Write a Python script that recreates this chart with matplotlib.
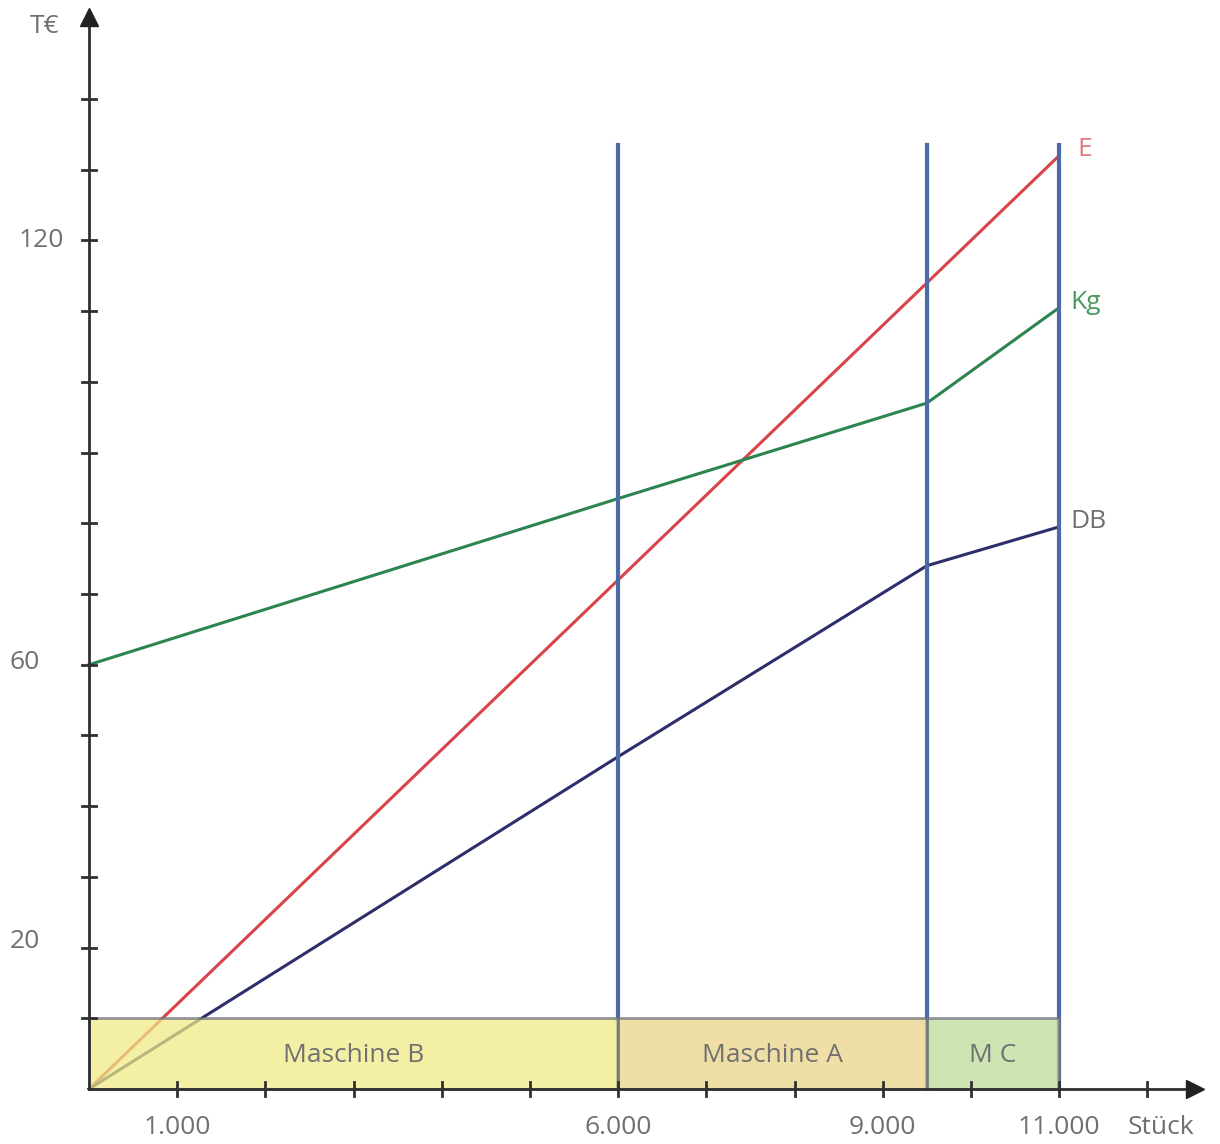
import matplotlib.pyplot as plt
from matplotlib.patches import Rectangle

plt.rcParams['font.family'] = ['Open Sans', 'DejaVu Sans']

# Stückzahlen an den Knickpunkten
menge = [0, 6000, 9500, 11000]
erloes = [0, 72, 114, 132]          # E
kosten = [60, 83.5, 97, 110.5]      # Kg
deckung = [0, 47, 74, 79.5]         # DB

# Maschinenbereiche
grenzen = [0, 6000, 9500, 11000]
maschinen = ['Maschine B', 'Maschine A', 'M C']
maschinen_farben = ['#efeb84', '#e9d384', '#bcda96']
balken_hoehe = 10

x_ticks = list(range(1000, 12001, 1000))
x_beschriftung = {1000: '1.000', 6000: '6.000', 9000: '9.000', 11000: '11.000'}
y_ticks = list(range(10, 141, 10))
y_beschriftung = {120: '120', 60: '60', 20: '20'}

grau = '#707070'
fs = 19

fig = plt.figure(figsize=(12.2, 11.44), dpi=100)
ax = fig.add_axes([0, 0, 1, 1])
ax.set_xlim(-1009, 12823)
ax.set_ylim(-7.78, 154.0)
ax.axis('off')

# Kurven
ax.plot(menge, erloes, color='#d8444a', lw=2.2, zorder=3)
ax.plot(menge, kosten, color='#2c8450', lw=2.2, zorder=3)
ax.plot(menge, deckung, color='#2d2f6d', lw=2.2, zorder=3)

# Grenzen der Maschinen
for g in grenzen[1:]:
    ax.plot([g, g], [0, 133.5], color='#4a6ca6', lw=3, zorder=4)

# Balken mit Maschinenbereichen
for i, name in enumerate(maschinen):
    ax.add_patch(Rectangle((grenzen[i], 0), grenzen[i + 1] - grenzen[i], balken_hoehe,
                           facecolor=maschinen_farben[i], edgecolor='#6e6e7a', lw=2,
                           alpha=0.72, zorder=5))
    ax.text((grenzen[i] + grenzen[i + 1]) / 2, balken_hoehe / 2 - 0.3, name,
            ha='center', va='center', fontsize=fs, color=grau, zorder=6)

# Achsen mit Pfeilen
ax.plot([0, 12500], [0, 0], color='#303030', lw=2, zorder=7)
ax.plot([0, 0], [0, 151], color='#303030', lw=2, zorder=7)
ax.plot(12540, 0, marker='>', ms=13, color='#222222', zorder=8)
ax.plot(0, 151.6, marker='^', ms=13, color='#222222', zorder=8)

for xt in x_ticks:
    ax.plot([xt, xt], [-1.0, 1.0], color='#303030', lw=2, zorder=7)
for yt in y_ticks:
    ax.plot([-80, 80], [yt, yt], color='#303030', lw=2, zorder=7)

for xt, txt in x_beschriftung.items():
    ax.text(xt, -5.4, txt, ha='center', va='center', fontsize=fs, color=grau)
ax.text(11780, -5.4, 'Stück', ha='left', va='center', fontsize=fs, color=grau)

ax.text(-280, 120, '120', ha='right', va='center', fontsize=fs, color=grau)
ax.text(-730, 60.3, '60', ha='center', va='center', fontsize=fs, color=grau)
ax.text(-730, 20.8, '20', ha='center', va='center', fontsize=fs, color=grau)
ax.text(-500, 150.3, 'T€', ha='center', va='center', fontsize=fs, color=grau)

# Kurvenbezeichnungen
ax.text(11210, 132.8, 'E', ha='left', va='center', fontsize=fs, color='#e07a78')
ax.text(11130, 111.2, 'Kg', ha='left', va='center', fontsize=fs, color='#4a9a5e')
ax.text(11130, 80.2, 'DB', ha='left', va='center', fontsize=fs, color=grau)

fig.savefig('out.png', dpi=100)
